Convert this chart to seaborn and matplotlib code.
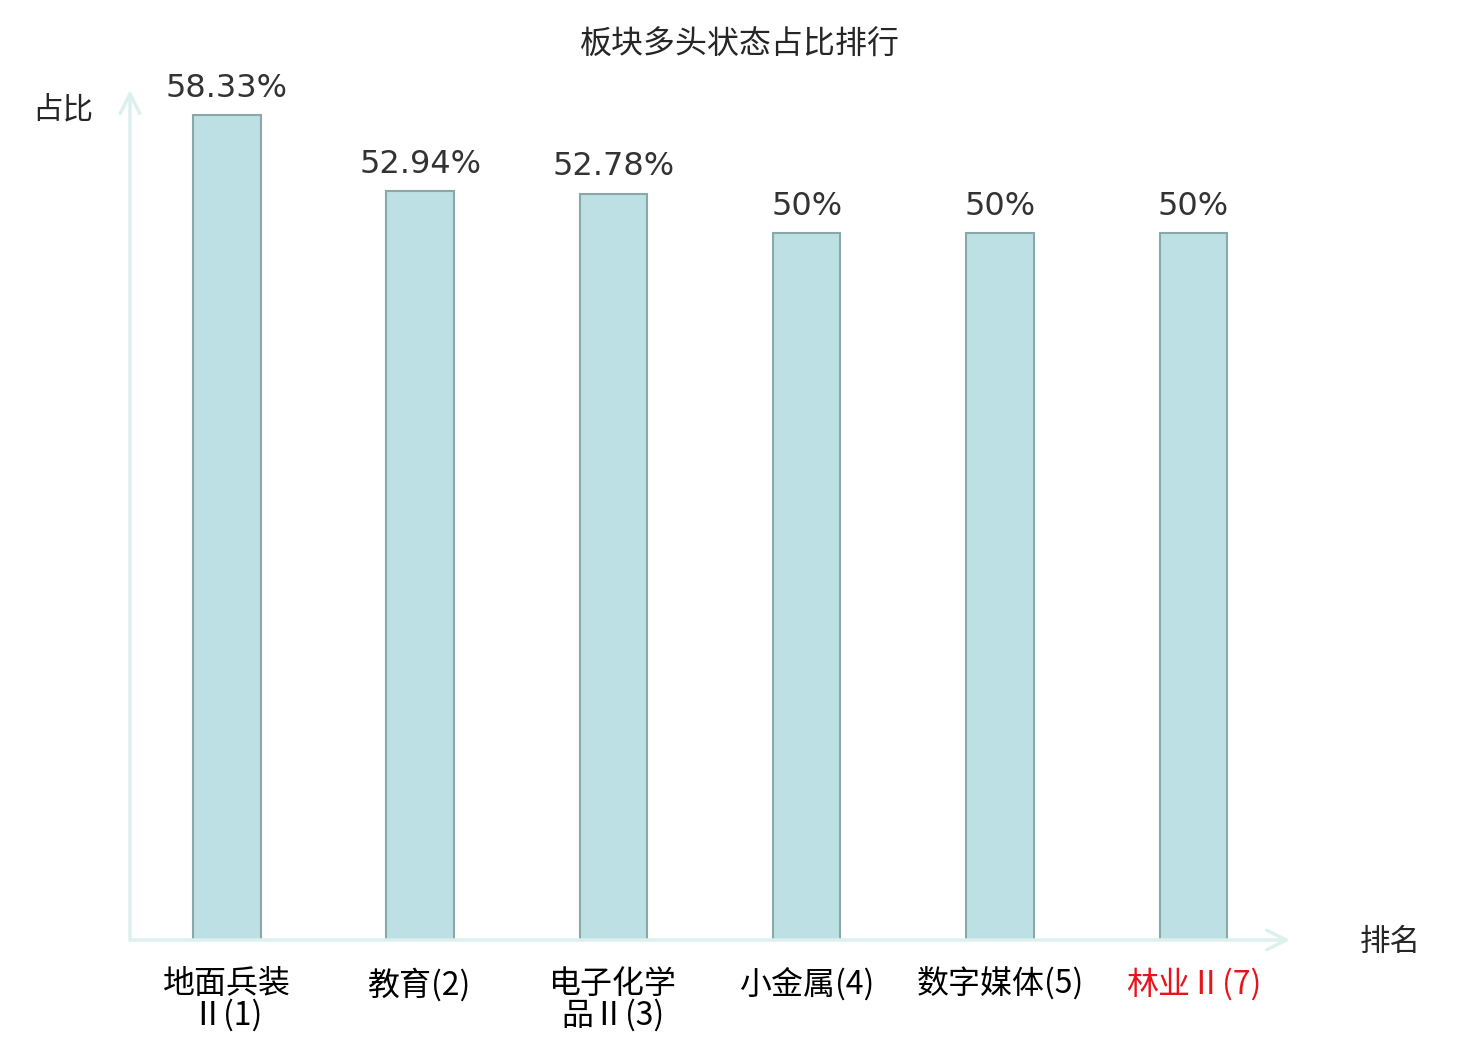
import matplotlib
matplotlib.use("Agg")
import matplotlib.pyplot as plt
import seaborn as sns
import pandas as pd

categories = ["地面兵装\nⅡ(1)", "教育(2)", "电子化学\n品Ⅱ(3)", "小金属(4)", "数字媒体(5)", "林业Ⅱ(7)"]
values = [58.33, 52.94, 52.78, 50, 50, 50]
value_labels = ["58.33%", "52.94%", "52.78%", "50%", "50%", "50%"]
label_colors = ["black", "black", "black", "black", "black", "#e8141b"]

sns.set_style("white")
plt.rcParams['font.family'] = ['Noto Sans CJK SC', 'DejaVu Sans']

df = pd.DataFrame({"name": categories, "ratio": values})

fig = plt.figure(figsize=(14.8, 10.4), dpi=100)
ax = fig.add_axes([130 / 1480, 1 - 940 / 1040, 1160 / 1480, 850 / 1040])

sns.barplot(data=df, x="name", y="ratio", ax=ax, width=0.35,
            color="#bce0e3", edgecolor="#8aa8a8", linewidth=1.5, saturation=1)

ax.set_xlim(-0.5, 5.5)
ax.set_ylim(0, 60.1)
for s in ax.spines.values():
    s.set_visible(False)
ax.set_yticks([])
ax.set_xlabel("")
ax.set_ylabel("")
ax.tick_params(axis="x", length=0, pad=20, labelsize=23)
for lbl, c in zip(ax.get_xticklabels(), label_colors):
    lbl.set_color(c)
    lbl.set_linespacing(0.95)

for i, (v, t) in enumerate(zip(values, value_labels)):
    ax.annotate(t, (i, v), xytext=(0, 8), textcoords="offset points",
                ha="center", va="bottom", fontsize=23, color="#333333",
                family="DejaVu Sans")

axis_col = "#dcf1ee"
arrow = dict(arrowstyle="->,head_length=1.4,head_width=0.7",
             color=axis_col, lw=2.5, shrinkA=0, shrinkB=0)
ax.annotate("", xy=(1, 0), xytext=(0, 0), xycoords="axes fraction", arrowprops=arrow)
ax.annotate("", xy=(0, 1), xytext=(0, 0), xycoords="axes fraction", arrowprops=arrow)

fig.text(63 / 1480, 1 - 110 / 1040, "占比", ha="center", va="center", fontsize=22)
fig.text(1390 / 1480, 1 - 942 / 1040, "排名", ha="center", va="center", fontsize=22)
fig.text(0.5, 1 - 45 / 1040, "板块多头状态占比排行", ha="center", va="center", fontsize=23)

fig.savefig("out.png", dpi=100)
